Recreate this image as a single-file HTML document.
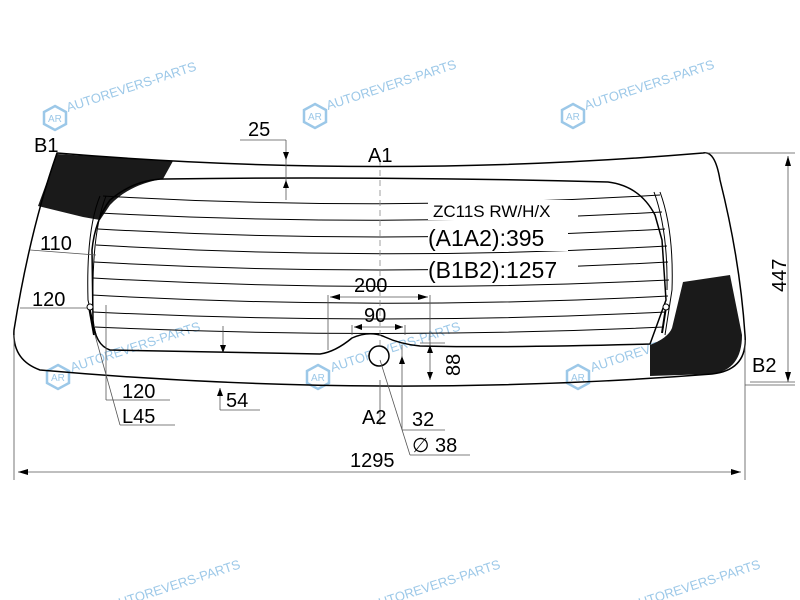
<!DOCTYPE html>
<html><head><style>
body{margin:0;background:#fff;}
svg{display:block;font-family:"Liberation Sans",Arial,sans-serif;}
.wm{fill:#9cc8e8;font-size:13px;}
</style></head><body>
<svg width="800" height="600" viewBox="0 0 800 600" xmlns="http://www.w3.org/2000/svg">
<defs>
<g id="logo"><polygon points="0,-12 11,-6 11,6 0,12 -11,6 -11,-6" fill="none" stroke="#9cc8e8" stroke-width="2.5"/><text x="-7" y="4" font-size="10" fill="#9cc8e8">AR</text></g>
</defs>
<g>
<use href="#logo" x="55" y="118"/><text class="wm" x="68" y="112" transform="rotate(-18 68 112)">AUTOREVERS-PARTS</text>
<use href="#logo" x="315" y="116"/><text class="wm" x="328" y="110" transform="rotate(-18 328 110)">AUTOREVERS-PARTS</text>
<use href="#logo" x="573" y="116"/><text class="wm" x="586" y="110" transform="rotate(-18 586 110)">AUTOREVERS-PARTS</text>
<use href="#logo" x="58" y="377"/><text class="wm" x="72" y="372" transform="rotate(-18 72 372)">AUTOREVERS-PARTS</text>
<use href="#logo" x="318" y="377"/><text class="wm" x="332" y="372" transform="rotate(-18 332 372)">AUTOREVERS-PARTS</text>
<use href="#logo" x="578" y="377"/><text class="wm" x="592" y="372" transform="rotate(-18 592 372)">AUTOREVERS-PARTS</text>
<text class="wm" x="112" y="610" transform="rotate(-18 112 610)">AUTOREVERS-PARTS</text>
<text class="wm" x="372" y="610" transform="rotate(-18 372 610)">AUTOREVERS-PARTS</text>
<text class="wm" x="632" y="610" transform="rotate(-18 632 610)">AUTOREVERS-PARTS</text>
</g>
<path d="M57,154 L173,161 L163,179 Q130,184 110,205 L100,220 L83,217 L38,206 Z" fill="#1a1a1a"/>
<path d="M683,282 L730,275 L742,335 Q742,370 712,374 L650,376 L650,345 Q668,338 672,328 Z" fill="#1a1a1a"/>
<path d="M57,153 Q380,180 703,153 Q715,150 720,180 Q740,260 745,335 Q748,370 712,374 Q380,400 40,370 Q12,360 14,330 Q30,230 57,153 Z" fill="none" stroke="#000" stroke-width="1.5"/>
<path d="M165,179 Q380,176 608,182 Q640,186 655,215 L662,240 L666,300 L650,344 Q500,348 420,346 Q400,344 385,337 Q370,330 352,338 Q335,352 320,354 Q200,352 110,350 Q95,345 93,320 L92,250 Q95,220 110,200 Q135,179 165,179 Z" fill="none" stroke="#000" stroke-width="1.5"/>
<g stroke="#000" stroke-width="1" fill="none">
<path d="M103,196 Q380,212 660,195"/>
<path d="M100,213 Q380,228 662,212"/>
<path d="M98,229 Q380,245 665,229"/>
<path d="M96,245 Q380,262 667,246"/>
<path d="M94,262 Q380,278 668,262"/>
<path d="M93,278 Q380,294 669,280"/>
<path d="M92,295 Q380,311 668,296"/>
<path d="M93,312 Q380,326 666,312"/>
<path d="M95,327 Q380,340 664,327"/>
<path d="M100,196 Q86,230 88,300 L96,335"/><path d="M106,196 Q92,232 93,300"/>
<path d="M660,192 Q674,230 672,290 L665,335"/><path d="M654,192 Q668,230 667,290"/>
<line x1="89" y1="307" x2="94" y2="335" stroke-width="2"/>
<line x1="666" y1="307" x2="662" y2="333" stroke-width="2"/>
</g>
<circle cx="90" cy="307" r="3" fill="#fff" stroke="#000"/>
<circle cx="666" cy="307" r="3" fill="#fff" stroke="#000"/>
<circle cx="379" cy="356" r="10" fill="#fff" stroke="#000" stroke-width="1.5"/>
<line x1="380" y1="160" x2="380" y2="345" stroke="#888" stroke-dasharray="6,4" stroke-width="0.8"/>
<rect x="428" y="200" width="150" height="20" fill="#fff"/>
<rect x="428" y="225" width="140" height="26" fill="#fff"/>
<rect x="428" y="256" width="150" height="26" fill="#fff"/>
<text x="433" y="217" font-size="17">ZC11S RW/H/X</text>
<text x="428" y="246" font-size="23">(A1A2):395</text>
<text x="428" y="278" font-size="23">(B1B2):1257</text>
<g stroke="#555" stroke-width="0.8" fill="none">
<line x1="286" y1="140" x2="286" y2="200"/>
<line x1="240" y1="140" x2="286" y2="140"/>
<line x1="705" y1="153" x2="795" y2="153"/>
<line x1="745" y1="385" x2="795" y2="385"/>
<line x1="788" y1="156" x2="788" y2="382"/>
<line x1="750" y1="382" x2="795" y2="382"/>
<line x1="14" y1="335" x2="14" y2="480"/><line x1="745" y1="340" x2="745" y2="480"/>
<line x1="18" y1="472" x2="741" y2="472"/>
<line x1="30" y1="250" x2="96" y2="255"/><line x1="20" y1="308" x2="88" y2="308"/>
<line x1="328" y1="295" x2="328" y2="350"/><line x1="430" y1="295" x2="430" y2="345"/>
<line x1="330" y1="297" x2="428" y2="297"/>
<line x1="352" y1="325" x2="352" y2="335"/><line x1="405" y1="325" x2="405" y2="335"/>
<line x1="354" y1="327" x2="403" y2="327"/>
<line x1="223" y1="326" x2="223" y2="353"/><line x1="220" y1="388" x2="220" y2="410"/>
<line x1="220" y1="410" x2="260" y2="410"/>
<line x1="106" y1="305" x2="106" y2="400"/><line x1="106" y1="400" x2="170" y2="400"/>
<line x1="95" y1="335" x2="120" y2="425"/><line x1="120" y1="425" x2="175" y2="425"/>
<line x1="402" y1="345" x2="402" y2="430"/><line x1="402" y1="430" x2="445" y2="430"/>
<line x1="380" y1="360" x2="410" y2="455"/><line x1="410" y1="455" x2="470" y2="455"/>
<line x1="380" y1="380" x2="380" y2="425"/>
<line x1="420" y1="343" x2="445" y2="343"/><line x1="430" y1="345" x2="430" y2="380"/>
</g>
<g fill="#000">
<polygon points="286,160 283,152 289,152"/><polygon points="286,180 283,188 289,188"/>
<polygon points="788,156 785,166 791,166"/><polygon points="788,382 785,372 791,372"/>
<polygon points="18,472 28,469 28,475"/><polygon points="741,472 731,469 731,475"/>
<polygon points="330,297 340,294 340,300"/><polygon points="428,297 418,294 418,300"/>
<polygon points="354,327 362,324 362,330"/><polygon points="403,327 395,324 395,330"/>
<polygon points="430,345 427,353 433,353"/><polygon points="430,380 427,372 433,372"/>
<polygon points="223,353 220,345 226,345"/><polygon points="220,388 217,396 223,396"/>
<polygon points="402,356 399,364 405,364"/>
</g>
<g font-size="20">
<text x="34" y="152">B1</text>
<text x="368" y="162">A1</text>
<text x="248" y="136">25</text>
<text x="40" y="250">110</text>
<text x="32" y="306">120</text>
<text x="354" y="292">200</text>
<text x="364" y="322">90</text>
<text x="122" y="398">120</text>
<text x="122" y="423">L45</text>
<text x="226" y="407">54</text>
<text x="362" y="424">A2</text>
<text x="412" y="426">32</text>
<text x="412" y="452">∅ 38</text>
<text x="350" y="467">1295</text>
<text x="752" y="372">B2</text>
<text transform="translate(460,376) rotate(-90)">88</text>
<text transform="translate(786,292) rotate(-90)">447</text>
</g>
</svg>
</body></html>
